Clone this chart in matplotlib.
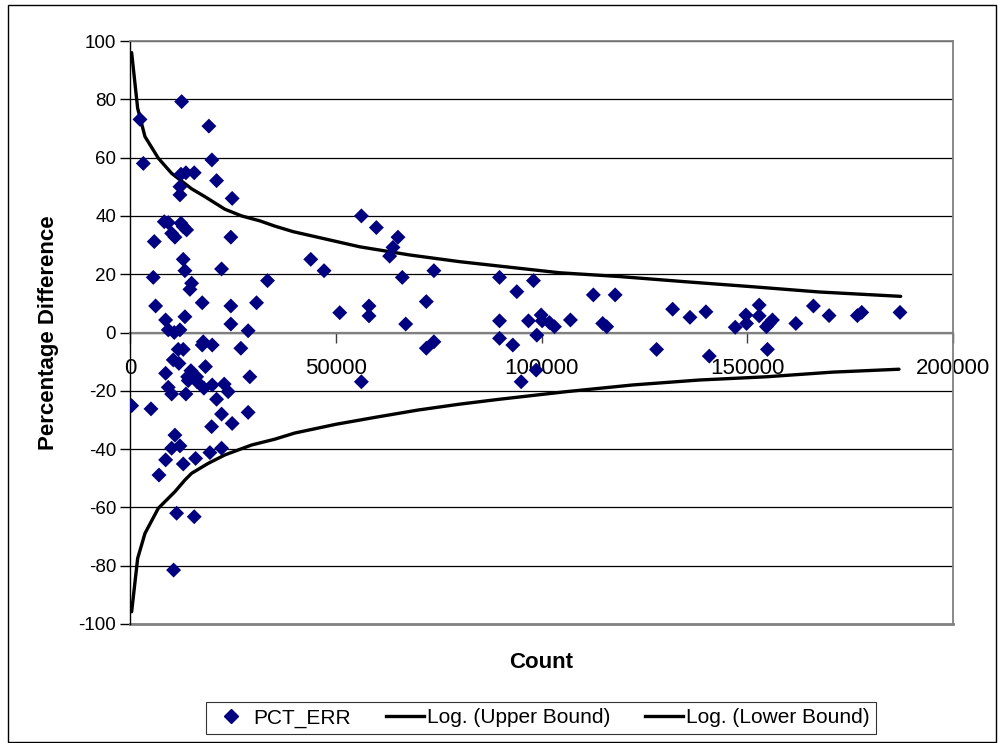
import matplotlib
matplotlib.use("Agg")
import matplotlib.pyplot as plt
from matplotlib.lines import Line2D
from matplotlib.patches import Rectangle

plt.rcParams['font.family'] = ['Liberation Sans', 'DejaVu Sans']

# Scatter data (PCT_ERR)
count = [400, 2430, 3240, 5100, 5660, 5900, 6230, 7040, 8330, 8660, 8660, 8660,
         9300, 9300, 9300, 10120, 10120, 10120, 10510, 10600, 10760, 10920, 10920,
         11330, 11720, 11890, 12140, 12140, 12140, 12140, 12380, 12380, 12550,
         12940, 12940, 12940, 12940, 13350, 13350, 13590, 13590, 13760, 14000,
         14150, 14560, 14800, 14970, 15610, 15610, 15940, 16190, 16310, 17550,
         17550, 17800, 17960, 18340, 19170, 19420, 19830, 19900, 19980, 19980,
         21040, 21040, 22250, 22250, 22250, 22890, 23860, 24510, 24510, 24510,
         24830, 24830, 26940, 28710, 28710, 29120, 30750, 33420, 43930, 47160,
         50970, 56230, 56230, 58080, 58080, 59870, 63100, 63910, 65120, 66170,
         67000, 72010, 72010, 73850, 73850, 89800, 89800, 89800, 93030, 94000,
         95060, 96840, 98050, 98700, 98860, 99920, 100160, 101930, 103150, 107030,
         112600, 114870, 115840, 117900, 127970, 131870, 136080, 139960, 140770,
         147080, 149670, 149830, 152900, 152900, 154670, 154910, 155330, 156130,
         161810, 166080, 169890, 176760, 177820, 187120]
pct_err = [-25.1, 73.1, 58.0, -26.2, 18.9, 31.2, 9.1, -48.9, 38.0, 4.3, -14.0, -43.7,
           37.7, 0.9, -18.8, 34.0, -21.1, -39.7, -9.4, -81.5, 0.0, 32.7, -35.2,
           -62.0, -5.8, -10.6, 50.0, 47.2, 0.9, -38.9, 54.3, 37.5, 79.2,
           36.3, 25.1, -5.8, -45.1, 21.2, 5.4, 54.8, -21.1, 35.2, -15.2,
           -16.5, 14.8, -13.1, 16.9, 54.8, -63.2, -43.2, -15.2, -16.9, 10.2,
           -4.3, -3.2, -19.1, -11.7, 70.8, -41.2, -32.3, 59.2, -4.3, -18.0,
           52.1, -22.9, 21.8, -28.0, -39.7, -17.7, -20.3, 32.7, 9.1, 2.9,
           46.0, -31.2, -5.4, 0.6, -27.4, -15.2, 10.2, 17.8, 25.1, 21.2,
           6.8, 40.0, -16.9, 9.1, 5.7, 36.0, 26.2, 29.2, 32.7, 18.9,
           2.9, 10.6, -5.4, 21.2, -3.2, 18.9, 4.0, -2.0, -4.3, 14.0,
           -16.9, 4.0, 17.8, -12.9, -0.9, 6.0, 4.0, 3.4, 2.0, 4.3,
           12.9, 3.1, 2.0, 12.9, -5.8, 8.0, 5.2, 7.1, -8.1,
           1.8, 6.0, 3.1, 9.4, 5.7, 2.0, -5.8, 3.1, 4.3,
           3.1, 9.1, 5.8, 5.8, 6.9, 6.9]

# Upper bound curve
upper_x = [400, 1860, 3640, 6880, 10120, 14970, 18200, 23050, 27100, 31550, 35190,
           39630, 47730, 55820, 67960, 80090, 92220, 104360, 118920, 135100,
           151280, 167460, 187280]
upper_y = [96.0, 76.9, 67.2, 59.8, 54.6, 49.3, 46.6, 42.3, 40.0, 38.3, 36.5,
           34.6, 32.0, 29.4, 26.6, 24.3, 22.4, 20.5, 19.2, 17.4,
           15.7, 13.9, 12.4]

# Lower bound curve
lower_x = [400, 1860, 3640, 6880, 10920, 13350, 14970, 19000, 23050, 29530, 35190,
           40000, 50000, 60000, 70000, 80000, 89800, 105990, 122160, 138340,
           154530, 170690, 186880]
lower_y = [-95.8, -77.5, -68.9, -60.3, -54.6, -50.6, -48.3, -44.9, -42.0, -38.6, -36.6,
           -34.5, -31.5, -29.0, -26.6, -24.6, -22.9, -20.3, -18.0, -16.3,
           -15.2, -13.6, -12.6]

x_ticks = [0, 50000, 100000, 150000, 200000]
y_ticks = [-100, -80, -60, -40, -20, 0, 20, 40, 60, 80, 100]

fig = plt.figure(figsize=(9.98, 7.43), dpi=100)
ax = fig.add_axes([130 / 998, (743 - 624) / 743, (953 - 130) / 998, (624 - 41) / 743])

ax.set_xlim(0, 200000)
ax.set_ylim(-100, 100)

for yv in y_ticks:
    ax.axhline(yv, color='black', lw=0.9, zorder=1)

ax.plot(upper_x, upper_y, color='black', lw=2.4, zorder=3, solid_capstyle='round')
ax.plot(lower_x, lower_y, color='black', lw=2.4, zorder=3, solid_capstyle='round')
ax.scatter(count, pct_err, marker='D', s=58, color='#000080', edgecolors='none', zorder=4)

# plot-area border
for side in ['top', 'right']:
    ax.spines[side].set_color('#808080')
    ax.spines[side].set_linewidth(1.3)
ax.spines['left'].set_color('black')
ax.spines['left'].set_linewidth(1.0)
ax.axhline(-100, color='#808080', lw=2.0, zorder=2, clip_on=False)

# x axis crosses at y = 0
ax.spines['bottom'].set_position(('data', 0))
ax.spines['bottom'].set_color('#808080')
ax.spines['bottom'].set_linewidth(1.6)
ax.spines['bottom'].set_zorder(2)

ax.set_xticks(x_ticks)
ax.set_xticklabels([str(v) for v in x_ticks])
ax.tick_params(axis='x', direction='out', length=7, width=1, color='#404040',
               labelsize=16, pad=11)

ax.set_yticks(y_ticks)
ax.set_yticklabels([str(v) for v in y_ticks])
ax.tick_params(axis='y', direction='out', length=7, width=1, labelsize=13.5, pad=3)

ax.set_ylabel('Percentage Difference', fontsize=16, fontweight='bold', labelpad=14)
fig.text(541 / 998, 1 - 662 / 743, 'Count', fontsize=16, fontweight='bold',
         ha='center', va='center')

handles = [
    Line2D([], [], marker='D', color='#000080', linestyle='none', markersize=7),
    Line2D([], [], color='black', lw=2.4),
    Line2D([], [], color='black', lw=2.4),
]
labels = ['PCT_ERR', 'Log. (Upper Bound)', 'Log. (Lower Bound)']
leg = fig.legend(handles, labels, loc='center', ncol=3,
                 bbox_to_anchor=(541 / 998, 1 - 718 / 743),
                 fontsize=15, frameon=True, fancybox=False, edgecolor='black',
                 handlelength=1.8, handletextpad=0.15, columnspacing=1.7,
                 borderpad=0.3, borderaxespad=0.0)
leg.get_frame().set_linewidth(0.8)

fig.patches.append(Rectangle((8 / 998, 0.002), 988 / 998, 1 - 5 / 743 - 0.002,
                             transform=fig.transFigure, fill=False,
                             edgecolor='black', lw=1.0))

fig.savefig('out.png', dpi=100)
